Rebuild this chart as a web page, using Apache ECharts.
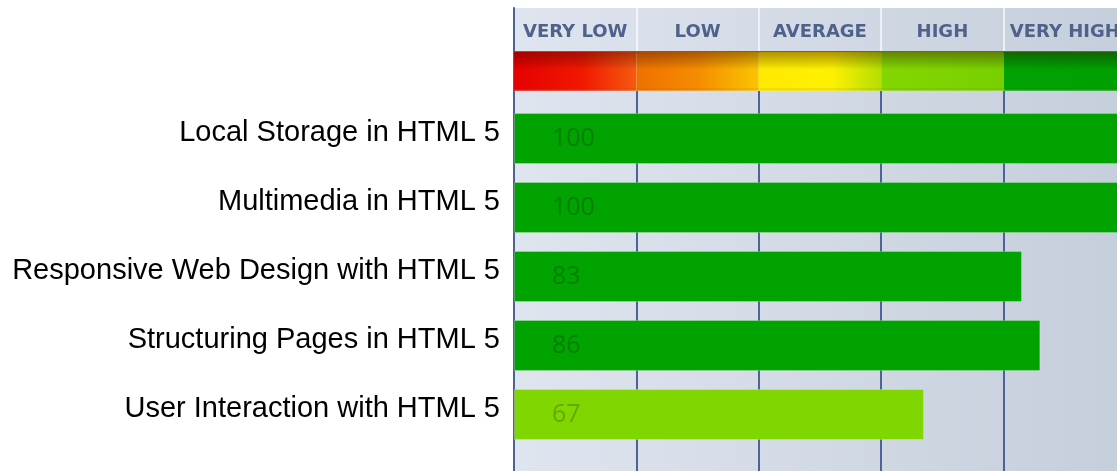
<!DOCTYPE html>
<html>
<head>
<meta charset="utf-8">
<script src="https://cdn.jsdelivr.net/npm/echarts@6/dist/echarts.min.js"></script>
<style>
  html, body { margin: 0; padding: 0; background: #ffffff; }
  #chart { width: 1117px; height: 471px; }
</style>
</head>
<body>
<div id="chart"></div>
<script>
// ---- data ----
const courses = [
  'Local Storage in HTML 5',
  'Multimedia in HTML 5',
  'Responsive Web Design with HTML 5',
  'Structuring Pages in HTML 5',
  'User Interaction with HTML 5'
];
const scores = [100, 100, 83, 86, 67];
const levelLabels = ['VERY LOW', 'LOW', 'AVERAGE', 'HIGH', 'VERY HIGH'];
const levelBand = [1, 1, 1, 1, 1];
const scaleMin = 0;
const scaleMax = 100;
const scaleStep = 20;

// ---- styles ----
const levelBarColors = ['#e80000', '#f07800', '#ffe800', '#80d600', '#00a300'];
const bandStops = [
  [[0, '#e60000'], [0.55, '#f01800'], [1, '#f65a10']],
  [[0, '#ef7000'], [0.5, '#f58c00'], [1, '#fbc400']],
  [[0, '#ffea00'], [0.6, '#fff000'], [1, '#b4de00']],
  [[0, '#84d600'], [1, '#78d000']],
  [[0, '#00a200'], [1, '#00a000']]
];
function hGrad(stops) {
  return new echarts.graphic.LinearGradient(0, 0, 1, 0,
    stops.map(s => ({ offset: s[0], color: s[1] })));
}
const borderBlue = '#4d6393';
const bgGrad = new echarts.graphic.LinearGradient(0, 0, 1, 0, [
  { offset: 0, color: '#dfe5ef' },
  { offset: 1, color: '#c5cedb' }
]);

const chart = echarts.init(document.getElementById('chart'), null, { renderer: 'canvas' });

const GL = 514, GW = 612;
const gridBase = { left: GL, width: GW, outerBoundsMode: 'none', containLabel: false };

const option = {
  backgroundColor: '#ffffff',
  animation: false,
  grid: [
    Object.assign({ top: 8, height: 44, show: true, backgroundColor: bgGrad, borderWidth: 0 }, gridBase),
    Object.assign({ top: 52, height: 39, show: false }, gridBase),
    Object.assign({ top: 91, height: 400, show: true, backgroundColor: bgGrad, borderWidth: 0 }, gridBase),
    Object.assign({ top: 104, height: 345, show: false }, gridBase),
    Object.assign({ top: 98, height: 345, show: false }, gridBase)
  ],
  xAxis: [
    {
      gridIndex: 0, type: 'category', data: levelLabels, position: 'top',
      axisLine: { show: true, lineStyle: { color: borderBlue, width: 2 } },
      axisTick: { show: false },
      splitLine: { show: true, lineStyle: { color: 'rgba(255,255,255,0.85)', width: 1.5 } },
      axisLabel: {
        show: true, interval: 0, margin: -24, verticalAlign: 'middle',
        fontFamily: 'DejaVu Sans', fontWeight: 'bold', fontSize: 18, color: '#4e628b'
      }
    },
    {
      gridIndex: 1, type: 'category', data: levelLabels,
      axisLine: { show: false }, axisTick: { show: false }, axisLabel: { show: false },
      splitLine: { show: false }
    },
    {
      gridIndex: 2, type: 'value', min: scaleMin, max: scaleMax, interval: scaleStep,
      axisLine: { show: false }, axisTick: { show: false }, axisLabel: { show: false },
      splitLine: { show: true, lineStyle: { color: borderBlue, width: 2 } }
    },
    {
      gridIndex: 3, type: 'value', min: scaleMin, max: scaleMax, interval: scaleStep,
      axisLine: { show: false }, axisTick: { show: false }, axisLabel: { show: false },
      splitLine: { show: false }
    },
    {
      gridIndex: 4, type: 'value', min: scaleMin, max: scaleMax, show: false
    }
  ],
  yAxis: [
    {
      gridIndex: 0, type: 'value', min: 0, max: 1,
      axisLine: { show: true, lineStyle: { color: borderBlue, width: 2 } },
      axisTick: { show: false }, axisLabel: { show: false }, splitLine: { show: false }
    },
    {
      gridIndex: 1, type: 'value', min: 0, max: 1,
      axisLine: { show: true, lineStyle: { color: borderBlue, width: 2 } },
      axisTick: { show: false }, axisLabel: { show: false }, splitLine: { show: false }
    },
    {
      gridIndex: 2, type: 'value', min: 0, max: 1,
      axisLine: { show: true, lineStyle: { color: borderBlue, width: 2 } },
      axisTick: { show: false }, axisLabel: { show: false }, splitLine: { show: false }
    },
    {
      gridIndex: 3, type: 'category', data: courses, inverse: true,
      axisLine: { show: false }, axisTick: { show: false }, splitLine: { show: false },
      axisLabel: { show: false }
    },
    {
      gridIndex: 4, type: 'category', data: courses, inverse: true,
      axisLine: { show: false }, axisTick: { show: false }, splitLine: { show: false },
      axisLabel: {
        show: true, interval: 0, margin: 14, fontFamily: 'Liberation Sans', fontSize: 29, color: '#000000'
      }
    }
  ],
  series: [
    {
      type: 'bar', xAxisIndex: 1, yAxisIndex: 1, barCategoryGap: '0%', z: 2,
      data: levelBand.map((v, i) => ({ value: v, itemStyle: { color: hGrad(bandStops[i]) } })),
      silent: true
    },
    {
      type: 'bar', xAxisIndex: 1, yAxisIndex: 1, barCategoryGap: '0%', barGap: '-100%', z: 3,
      data: levelBand,
      itemStyle: {
        color: new echarts.graphic.LinearGradient(0, 0, 0, 1, [
          { offset: 0, color: 'rgba(60,0,0,0.38)' },
          { offset: 0.45, color: 'rgba(0,0,0,0)' },
          { offset: 0.92, color: 'rgba(0,0,0,0)' },
          { offset: 1, color: 'rgba(255,255,255,0.35)' }
        ])
      },
      silent: true
    },
    {
      type: 'bar', xAxisIndex: 3, yAxisIndex: 3, barWidth: 51, z: 5,
      data: scores.map(v => ({
        value: v,
        itemStyle: { color: levelBarColors[Math.min(4, Math.floor(v / scaleStep))] }
      })),
      itemStyle: { borderColor: 'rgba(255,255,255,0.22)', borderWidth: 1 },
      label: {
        show: true, position: 'insideLeft', distance: 38,
        fontFamily: 'Open Sans', fontSize: 25, color: 'rgba(0,0,0,0.22)'
      }
    }
  ]
};
chart.setOption(option);
</script>
</body>
</html>
